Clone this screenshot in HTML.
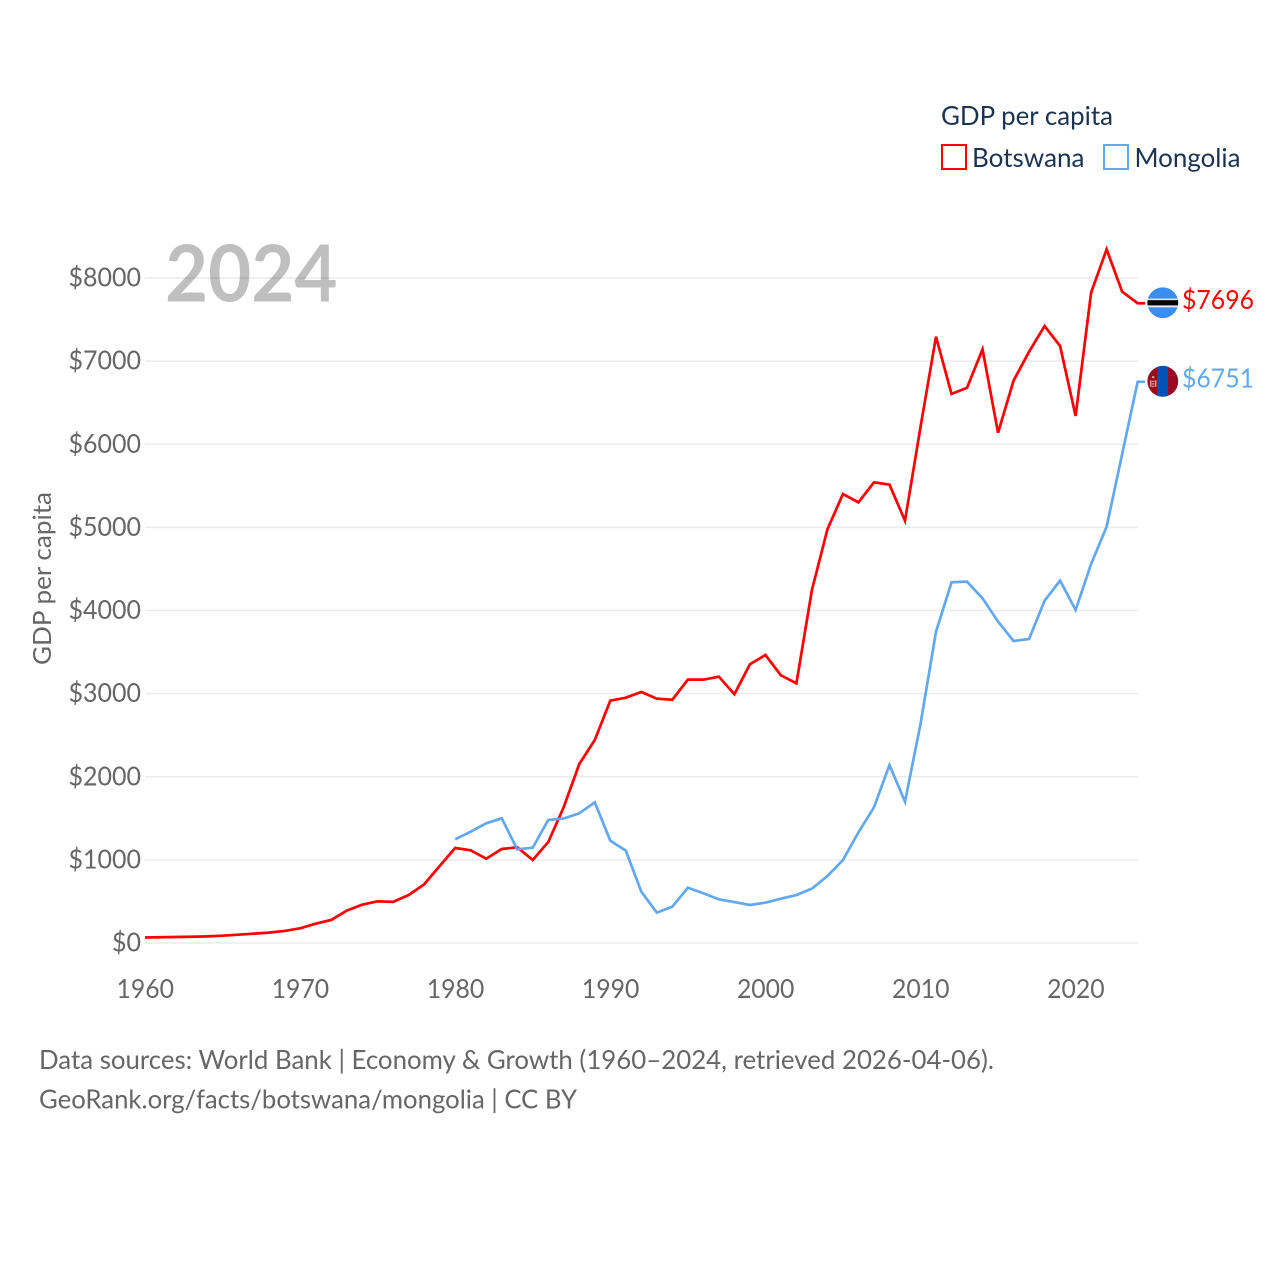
<!DOCTYPE html>
<html lang="en">
<head>
<meta charset="utf-8">
<title>GDP per capita: Botswana and Mongolia</title>
<style>
html,body{margin:0;padding:0;background:#fff;}
svg{display:block;}
text{font-family:"Lato","Carlito","Liberation Sans",sans-serif;}
</style>
</head>
<body>
<svg id="chart" xmlns="http://www.w3.org/2000/svg" width="1280" height="1280" viewBox="0 0 1280 1280">
  <defs>
    <clipPath id="flag-clip-a"><circle cx="0" cy="0" r="15.4"></circle></clipPath>
  </defs>
  <rect x="0" y="0" width="1280" height="1280" fill="#ffffff"></rect>

  <g id="grid"></g>
  <g id="y-ticks"></g>
  <g id="x-ticks"></g>

  <text x="165" y="301.5" font-size="79" font-weight="700" fill="#000000" fill-opacity="0.25" textLength="172.5" lengthAdjust="spacingAndGlyphs">2024</text>

  <text transform="translate(51,665) rotate(-90)" font-size="25.5" fill="#666666" textLength="173" lengthAdjust="spacingAndGlyphs">GDP per capita</text>

  <g id="series"></g>

  <g id="flag-botswana">
    <g clip-path="url(#flag-clip-a)">
      <rect x="-16" y="-16" width="32" height="32" fill="#3a8df2"></rect>
      <rect x="-16" y="-4.2" width="32" height="8.8" fill="#e6e6e6"></rect>
      <rect x="-16" y="-2.6" width="32" height="5.2" fill="#000000"></rect>
    </g>
  </g>
  <g id="flag-mongolia">
    <g clip-path="url(#flag-clip-a)">
      <rect x="-16" y="-16" width="32" height="32" fill="#9b0a22"></rect>
      <rect x="-5.6" y="-16" width="10.8" height="32" fill="#0052b4"></rect>
      <rect x="-12.8" y="-1" width="1.4" height="6.6" fill="#e39a9a"></rect>
      <rect x="-7.8" y="-1" width="1.4" height="6.6" fill="#e39a9a"></rect>
      <rect x="-11" y="-0.5" width="2.8" height="1.2" fill="#e39a9a"></rect>
      <rect x="-11" y="2" width="2.8" height="1.2" fill="#e39a9a"></rect>
      <rect x="-11" y="4.4" width="2.8" height="1.2" fill="#e39a9a"></rect>
      <circle cx="-9.6" cy="-4.2" r="1.2" fill="#e39a9a"></circle>
    </g>
  </g>

  <text id="end-label-a" x="1182" font-size="26.5" fill="#ff0000" textLength="72" lengthAdjust="spacingAndGlyphs"></text>
  <text id="end-label-b" x="1182" font-size="26.5" fill="#62a8ee" textLength="72" lengthAdjust="spacingAndGlyphs"></text>

  <g>
    <text x="941" y="125" font-size="26.5" fill="#1a3353" textLength="172" lengthAdjust="spacingAndGlyphs">GDP per capita</text>
    <rect x="942" y="145" width="24" height="24" fill="none" stroke="#ff0000" stroke-width="2"></rect>
    <text x="972" y="167" font-size="26.5" fill="#1a3353" textLength="112.5" lengthAdjust="spacingAndGlyphs">Botswana</text>
    <rect x="1104" y="145" width="24" height="24" fill="none" stroke="#62a8ee" stroke-width="2"></rect>
    <text x="1134.5" y="167" font-size="26.5" fill="#1a3353" textLength="106" lengthAdjust="spacingAndGlyphs">Mongolia</text>
  </g>

  <g>
    <text x="39" y="1069" font-size="26" fill="#666666" textLength="955" lengthAdjust="spacingAndGlyphs">Data sources: World Bank | Economy &amp; Growth (1960–2024, retrieved 2026-04-06).</text>
    <text x="39" y="1108.5" font-size="26" fill="#666666" textLength="538" lengthAdjust="spacingAndGlyphs">GeoRank.org/facts/botswana/mongolia | CC BY</text>
  </g>
</svg>
<script>
var startYear = 1960;
var endYear = 2024;
var yTickValues = [0, 1000, 2000, 3000, 4000, 5000, 6000, 7000, 8000];
var xTickValues = [1960, 1970, 1980, 1990, 2000, 2010, 2020];
var botswanaYears = [1960,1961,1962,1963,1964,1965,1966,1967,1968,1969,1970,1971,1972,1973,1974,1975,1976,1977,1978,1979,1980,1981,1982,1983,1984,1985,1986,1987,1988,1989,1990,1991,1992,1993,1994,1995,1996,1997,1998,1999,2000,2001,2002,2003,2004,2005,2006,2007,2008,2009,2010,2011,2012,2013,2014,2015,2016,2017,2018,2019,2020,2021,2022,2023,2024];
var botswanaValues = [66,69,72,75,80,88,100,112,125,145,177,232,277,389,461,501,495,577,706,926,1143,1115,1014,1131,1151,998,1215,1636,2153,2442,2915,2951,3020,2939,2927,3168,3168,3204,2992,3352,3465,3220,3124,4247,4977,5401,5301,5542,5514,5080,6207,7294,6605,6680,7142,6139,6765,7113,7422,7182,6340,7823,8345,7835,7696];
var mongoliaYears = [1980,1981,1982,1983,1984,1985,1986,1987,1988,1989,1990,1991,1992,1993,1994,1995,1996,1997,1998,1999,2000,2001,2002,2003,2004,2005,2006,2007,2008,2009,2010,2011,2012,2013,2014,2015,2016,2017,2018,2019,2020,2021,2022,2023,2024];
var mongoliaValues = [1247,1339,1440,1500,1127,1147,1480,1498,1560,1692,1231,1111,617,365,437,665,598,525,493,457,485,533,577,654,806,998,1331,1632,2141,1700,2635,3745,4339,4347,4147,3866,3633,3657,4118,4359,4006,4560,5008,5880,6751];

var NS = 'http://www.w3.org/2000/svg';
function xScale(year) { return 145 + (year - startYear) * 15.51; }
function yScale(value) { return 943 - value * 0.083125; }

var gridGroup = document.getElementById('grid');
var yGroup = document.getElementById('y-ticks');
var xGroup = document.getElementById('x-ticks');
var seriesGroup = document.getElementById('series');

yTickValues.forEach(function (v) {
  var line = document.createElementNS(NS, 'line');
  
  
  line.setAttribute('x1', xScale(startYear));
  line.setAttribute('x2', xScale(endYear));
  line.setAttribute('y1', yScale(v));
  line.setAttribute('y2', yScale(v));
  line.setAttribute('stroke', '#ececec');
  line.setAttribute('stroke-width', '1.6');
  gridGroup.appendChild(line);

  var label = document.createElementNS(NS, 'text');
  var str = '$' + v;
  
  
  label.setAttribute('x', 141);
  label.setAttribute('y', yScale(v) + 8.5);
  label.setAttribute('text-anchor', 'end');
  label.setAttribute('font-size', '26.5');
  label.setAttribute('fill', '#666666');
  label.setAttribute('textLength', str.length * 14.5);
  label.setAttribute('lengthAdjust', 'spacingAndGlyphs');
  label.textContent = str;
  yGroup.appendChild(label);
});

xTickValues.forEach(function (year) {
  var label = document.createElementNS(NS, 'text');
  
  
  label.setAttribute('x', xScale(year) + 0.3);
  label.setAttribute('y', 998);
  label.setAttribute('text-anchor', 'middle');
  label.setAttribute('font-size', '26.5');
  label.setAttribute('fill', '#666666');
  label.setAttribute('textLength', 57.5);
  label.setAttribute('lengthAdjust', 'spacingAndGlyphs');
  label.textContent = String(year);
  xGroup.appendChild(label);
});

function linePoints(years, values) {
  var pts = years.map(function (yr, i) {
    return xScale(yr).toFixed(2) + ',' + yScale(values[i]).toFixed(2);
  });
  var lastY = yScale(values[values.length - 1]).toFixed(2);
  pts.push((xScale(years[years.length - 1]) + 7.5).toFixed(2) + ',' + lastY);
  return pts.join(' ');
}

var botswanaLine = document.createElementNS(NS, 'polyline');


botswanaLine.setAttribute('points', linePoints(botswanaYears, botswanaValues));
botswanaLine.setAttribute('fill', 'none');
botswanaLine.setAttribute('stroke', '#ff0000');
botswanaLine.setAttribute('stroke-width', '2.7');
seriesGroup.appendChild(botswanaLine);

var mongoliaLine = document.createElementNS(NS, 'polyline');


mongoliaLine.setAttribute('points', linePoints(mongoliaYears, mongoliaValues));
mongoliaLine.setAttribute('fill', 'none');
mongoliaLine.setAttribute('stroke', '#62a8ee');
mongoliaLine.setAttribute('stroke-width', '2.7');
seriesGroup.appendChild(mongoliaLine);

var lastA = botswanaValues[botswanaValues.length - 1];
var lastB = mongoliaValues[mongoliaValues.length - 1];
document.getElementById('flag-botswana').setAttribute('transform', 'translate(1162.8,' + (yScale(lastA) - 0.5) + ')');
document.getElementById('flag-mongolia').setAttribute('transform', 'translate(1162.8,' + (yScale(lastB) - 0.5) + ')');
var labelA = document.getElementById('end-label-a');
labelA.setAttribute('y', yScale(lastA) + 5.5);
labelA.textContent = '$' + lastA;
var labelB = document.getElementById('end-label-b');
labelB.setAttribute('y', yScale(lastB) + 5.5);
labelB.textContent = '$' + lastB;
</script>
</body>
</html>
